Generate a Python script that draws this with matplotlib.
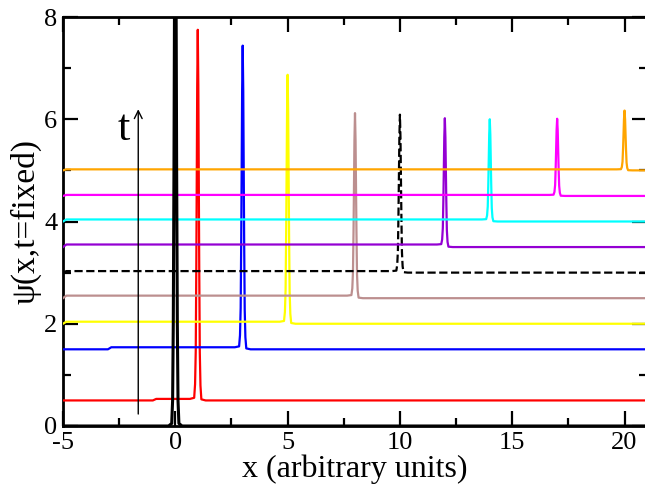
import matplotlib
matplotlib.use("Agg")
import matplotlib.pyplot as plt

plt.rcParams['font.family'] = ['Liberation Serif', 'DejaVu Serif']
plt.rcParams['axes.unicode_minus'] = False

# ---- data ----
# pulses (one per time), left to right
peak_x      = [1.0, 3.0, 5.0, 8.0, 10.0, 12.0, 14.0, 17.0, 20.0]
peak_height = [7.75, 7.44, 6.87, 6.12, 6.09, 6.02, 6.0, 6.01, 6.17]
base_level  = [0.50, 1.50, 2.00, 2.50, 3.00, 3.50, 4.00, 4.50, 5.00]
pre_level   = [0.53, 1.54, 2.04, 2.55, 3.03, 3.55, 4.04, 4.52, 5.02]
step_x      = [-1.0, -3.0, -5.0, -5.0, -5.0, -5.0, -5.0, -5.0, -5.0]
colors      = ['#ff0000', '#0000ff', '#ffff00', '#bc8f8f', '#000000',
               '#9400d3', '#00ffff', '#ff00ff', '#ffa500']
styles      = ['-', '-', '-', '-', '--', '-', '-', '-', '-']

# shape of a narrow pulse (offset from centre, fraction of height)
prof_dx   = [-0.35, -0.16, -0.12, -0.09, -0.065, -0.045, -0.025, 0.0,
             0.025, 0.045, 0.065, 0.09, 0.12, 0.16, 0.35]
prof_frac = [0.0, 0.003, 0.04, 0.13, 0.36, 0.60, 0.85, 1.0,
             0.85, 0.60, 0.36, 0.13, 0.04, 0.003, 0.0]

# initial (t=0) pulse, black, centred at 0
black_x = [-5.0, -0.30, -0.16, -0.12, -0.09, -0.06, -0.03, 0.0,
           0.03, 0.06, 0.09, 0.12, 0.16, 0.30, 21.0]
black_y = [0.0, 0.0, 0.05, 0.5, 2.0, 5.0, 9.0, 11.0,
           9.0, 5.0, 2.0, 0.5, 0.05, 0.0, 0.0]

x_min, x_max = -5.0, 21.0
x_ticks = [-5, 0, 5, 10, 15, 20]
x_minor = [-2.5, 2.5, 7.5, 12.5, 17.5]
y_ticks = [0, 2, 4, 6, 8]
y_minor = [1, 3, 5, 7]

fig = plt.figure(figsize=(6.45, 4.87), dpi=100)
ax = fig.add_axes([63/645, 61/487, 584/645, 409/487])

for px, ph, bl, pl, sx, c, ls in zip(peak_x, peak_height, base_level,
                                      pre_level, step_x, colors, styles):
    xs = [x_min, sx, sx + 0.15]
    ys = [bl, bl, pl]
    for dx, fr in zip(prof_dx, prof_frac):
        lvl = pl if dx <= 0 else bl
        xs.append(px + dx)
        ys.append(lvl + (ph - lvl) * fr)
    xs.append(x_max)
    ys.append(bl)
    ax.plot(xs, ys, color=c, lw=1.6, ls=ls, zorder=3)

ax.plot(black_x, black_y, color='black', lw=2.2, zorder=4)

# time arrow
ax.annotate('', xy=(-1.65, 6.25), xytext=(-1.65, 0.18),
            arrowprops=dict(arrowstyle='->', color='black', lw=1.0,
                            mutation_scale=14))
ax.text(-2.3, 5.8, 't', fontsize=32, ha='center', va='center')

ax.set_xlim(x_min, x_max)
ax.set_ylim(0, 8)
ax.set_xticks(x_ticks)
ax.set_yticks(y_ticks)
ax.set_xticks(x_minor, minor=True)
ax.set_yticks(y_minor, minor=True)
ax.tick_params(which='both', direction='in', top=True, right=True,
               width=1.6, labelsize=19, pad=4)
ax.tick_params(which='major', length=11)
ax.tick_params(which='minor', length=6)
for s in ax.spines.values():
    s.set_linewidth(2.0)

ax.set_xlabel('x (arbitrary units)', fontsize=23, labelpad=1)
ax.set_ylabel('ψ(x,t=fixed)', fontsize=24, labelpad=2)

fig.savefig('out.png', dpi=100)
